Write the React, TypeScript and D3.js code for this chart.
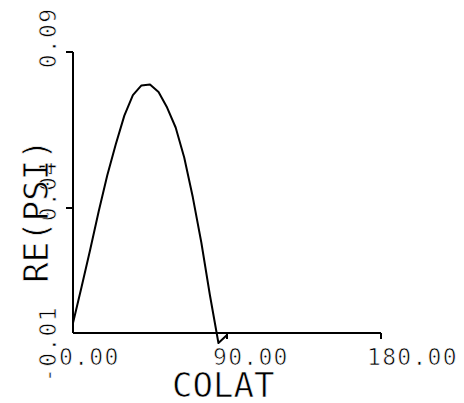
import * as d3 from "d3";
import { useEffect, useRef } from "react";

// colatitude samples (deg) and RE(PSI)
const colat = [0, 5, 10, 15, 20, 25, 30, 35, 40, 45, 50, 55, 60, 65, 70, 75, 80, 85, 90];
const rePsi = [
  -0.006, 0.0084, 0.0232, 0.0386, 0.0504, 0.0604, 0.0696, 0.0762, 0.0793, 0.0796,
  0.0772, 0.0722, 0.0658, 0.0562, 0.0435, 0.0262, 0.0052, -0.014, -0.0108,
];

const xTicks = [0, 90, 180];
const xTickLabels = ["0.00", "90.00", "180.00"];
const yTicks = [-0.01, 0.04, 0.09];
const yTickLabels = ["-0.01", "0.04", "0.09"];

export default function App() {
  const ref = useRef<SVGSVGElement>(null);

  useEffect(() => {
    const svg = d3.select(ref.current);
    svg.selectAll("*").remove();
    const width = 464;
    const height = 403;
    const font = "'DejaVu Sans Mono', monospace";

    svg.attr("width", width).attr("height", height);
    svg.append("rect").attr("width", width).attr("height", height).attr("fill", "#fff");

    const x = d3.scaleLinear().domain([0, 180]).range([73, 381]);
    // the scanned axis is not quite even, so the scale goes through each tick
    const y = d3.scaleLinear().domain(yTicks).range([333, 208, 52]);
    // the tick labels sit on an even spacing of their own
    const yLabel = d3.scaleLinear().domain([-0.01, 0.09]).range([344, 38]);

    const g = svg.append("g").attr("stroke", "#000").attr("fill", "none");

    // axes
    g.append("line")
      .attr("x1", x(0)).attr("x2", x(0))
      .attr("y1", y(-0.01)).attr("y2", y(0.09))
      .attr("stroke-width", 2);
    g.append("line")
      .attr("x1", x(0)).attr("x2", x(180))
      .attr("y1", y(-0.01)).attr("y2", y(-0.01))
      .attr("stroke-width", 2);

    g.selectAll(".xt")
      .data(xTicks.slice(1))
      .join("line")
      .attr("x1", d => x(d)).attr("x2", d => x(d))
      .attr("y1", y(-0.01)).attr("y2", y(-0.01) + 6)
      .attr("stroke-width", 2);

    g.selectAll(".yt")
      .data(yTicks.slice(1))
      .join("line")
      .attr("x1", x(0) - 7).attr("x2", x(0))
      .attr("y1", d => y(d)).attr("y2", d => y(d))
      .attr("stroke-width", 2);

    const line = d3.line<number>()
      .x((_, i) => x(colat[i]))
      .y(d => y(d))
      .curve(d3.curveLinear);

    g.append("path")
      .attr("d", line(rePsi))
      .attr("stroke-width", 2)
      .attr("stroke-linejoin", "round");

    // plotter lettering is thin: a white outline on top slims the glyphs
    const thin = (sel: d3.Selection<any, any, any, any>) =>
      sel.attr("font-family", font).attr("fill", "#000")
        .attr("stroke", "#fff").attr("stroke-width", 0.7);

    // tick labels
    svg.selectAll(".xl")
      .data(xTicks)
      .join("text")
      .attr("x", d => x(d) - 14)
      .attr("y", 365)
      .attr("font-size", 23)
      .attr("letter-spacing", 1.3)
      .call(thin)
      .text((_, i) => xTickLabels[i]);

    svg.selectAll(".yl")
      .data(yTicks)
      .join("text")
      .attr("transform", d => `translate(56, ${yLabel(d)}) rotate(-90)`)
      .attr("text-anchor", "middle")
      .attr("font-size", 23)
      .attr("letter-spacing", 1.3)
      .call(thin)
      .text((_, i) => yTickLabels[i]);

    // axis titles
    svg.append("text")
      .attr("x", 172)
      .attr("y", 397)
      .attr("font-size", 34)
      .call(thin)
      .text("COLAT");

    svg.append("text")
      .attr("transform", "translate(48, 211) rotate(-90)")
      .attr("text-anchor", "middle")
      .attr("font-size", 34)
      .call(thin)
      .text("RE(PSI)");
  }, []);

  return <svg ref={ref} style={{ position: "absolute", left: 0, top: 0 }} />;
}
